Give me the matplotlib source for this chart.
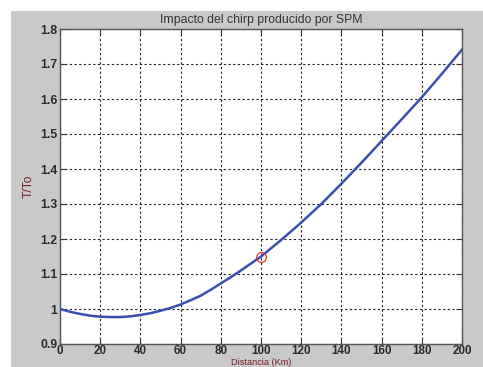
import matplotlib
matplotlib.use("Agg")
import matplotlib.pyplot as plt
from matplotlib.patches import Rectangle

# Normalised pulse width T/To versus distance
distance = [0, 5, 10, 15, 20, 25, 30, 35, 40, 45, 50, 55, 60, 65, 70, 75, 80, 85, 90, 100,
            110, 120, 130, 140, 150, 160, 170, 180, 190, 200]
width_ratio = [1.000, 0.992, 0.986, 0.981, 0.978, 0.977, 0.977, 0.979, 0.983, 0.988, 0.995,
               1.003, 1.013, 1.025, 1.038, 1.055, 1.073, 1.091, 1.110, 1.150,
               1.197, 1.247, 1.300, 1.358, 1.418, 1.480, 1.542, 1.605, 1.672, 1.741]
marker_x = [100]
marker_y = [1.15]

x_ticks = [0, 20, 40, 60, 80, 100, 120, 140, 160, 180, 200]
y_ticks = [0.9, 1.0, 1.1, 1.2, 1.3, 1.4, 1.5, 1.6, 1.7, 1.8]
y_tick_labels = ["0.9", "1", "1.1", "1.2", "1.3", "1.4", "1.5", "1.6", "1.7", "1.8"]

plt.rcParams["font.family"] = ["Liberation Sans", "DejaVu Sans"]

W, H = 483, 367
fig = plt.figure(figsize=(W / 100, H / 100), dpi=100)
fig.patch.set_facecolor("#c9c9c9")

ax = fig.add_axes([60 / W, (H - 344) / H, (462 - 60) / W, (344 - 29) / H])
ax.set_facecolor("white")

ax.plot(distance, width_ratio, color="#3a4fb0", lw=1.8, zorder=3)
ax.plot(marker_x, marker_y, "o", ms=7, mfc="none", mec="#e8343a", mew=0.9, zorder=4)

ax.set_xlim(0, 200)
ax.set_ylim(0.9, 1.8)
ax.set_xticks(x_ticks)
ax.set_yticks(y_ticks)
ax.set_yticklabels(y_tick_labels)

ax.grid(True, color="#222222", linestyle=(0, (2, 2.2)), linewidth=0.8)
ax.tick_params(direction="in", length=4, width=0.8, top=True, right=True,
               labelsize=8.8, labelcolor="#2a2a2a", color="#333333", pad=2)
ax.tick_params(axis="x", pad=0.8, labelsize=8.4)
for lbl in ax.get_xticklabels() + ax.get_yticklabels():
    lbl.set_fontweight("semibold")
for s in ax.spines.values():
    s.set_color("#555555")
    s.set_linewidth(1.0)

ax.set_title("Impacto del chirp producido por SPM", fontsize=8.8, color="#333333", pad=4)
ax.set_ylabel("T/To", fontsize=8.8, color="#7a1f2a", labelpad=4)

# x-axis caption sits in the narrow strip under the tick labels
fig.text((60 + 462) / 2 / W, 0, "Distancia (Km)", fontsize=6.6, color="#7a1f2a",
         ha="center", va="bottom")

# white frame around the grey figure area
fig.add_artist(Rectangle((0, (H - 11) / H), 1, 11 / H, transform=fig.transFigure,
                         facecolor="white", edgecolor="none", zorder=10))
fig.add_artist(Rectangle((0, 0), 11 / W, 1, transform=fig.transFigure,
                         facecolor="white", edgecolor="none", zorder=10))

fig.savefig("out.png", dpi=100, facecolor=fig.get_facecolor())
